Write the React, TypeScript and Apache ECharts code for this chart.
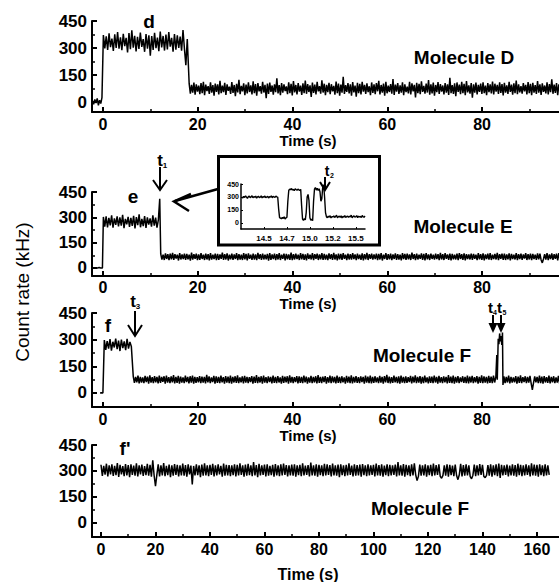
import React, { useEffect, useRef } from 'react';
import * as echarts from 'echarts';

const FONT = "'Liberation Sans', Arial, Helvetica, sans-serif";

// ---------- tick values / labels ----------
const mainXTicks = [0, 20, 40, 60, 80];
const mainXMajorTicks = [0, 20, 40, 60, 80, 100];
const mainXMinorTicks = [10, 30, 50, 70, 90];
const fpXTicks = [0, 20, 40, 60, 80, 100, 120, 140, 160];
const fpXMinorTicks = [10, 30, 50, 70, 90, 110, 130, 150, 170];
const yTicks = [0, 150, 300, 450];
const yMinorTicks = [75, 225, 375];
const insetXTickValues = [14.5, 14.75, 15.0, 15.25, 15.5];
const insetXTickLabels = ['14.5', '14.7', '15.0', '15.2', '15.5'];

// ---------- panel d (Molecule D) ----------
const dPreStart = -2.2, dPreStep = 0.25;
const dPre = [8, -12, 15, -5, 20, -18, 10, -8, 25];
const dHighStart = 0.1, dHighStep = 0.3;
const dHigh = [
  372, 298, 365, 290, 381, 305, 352, 284, 376, 300, 388, 296, 360, 288, 379, 311, 357, 275, 383, 293,
  398, 302, 368, 281, 362, 295, 386, 306, 349, 279, 377, 297, 370, 258, 366, 289, 384, 299, 358, 283,
  392, 304, 367, 286, 375, 292, 389, 308, 356, 280, 378, 291, 371, 300, 363, 285, 400, 296, 205, 350,
];
const dLowStart = 18.2, dLowStep = 0.25;
const dLow = [
  102, 47, 96, 53, 108, 41, 99, 58, 91, 44, 105, 50, 113, 39, 97, 61, 88, 46, 110, 52,
  94, 36, 103, 57, 99, 43, 118, 49, 92, 55, 107, 40, 98, 62, 86, 45, 111, 51, 95, 33,
  101, 54, 124, 44, 90, 59, 104, 38, 97, 48, 109, 56, 93, 42, 115, 50, 100, 35, 106, 60,
  89, 47, 112, 53, 96, 22, 103, 45, 108, 57, 92, 41, 99, 55, 132, 48, 94, 39, 105, 52,
  98, 61, 87, 44, 110, 50, 101, 37, 117, 54, 95, 43, 106, 58, 91, 40, 104, 49, 119, 46,
  100, 56, 93, 28, 108, 51, 97, 42, 113, 59, 89, 47, 121, 53, 102, 38, 96, 55, 107, 44,
  99, 60, 90, 41, 114, 50, 103, 36, 97, 52, 140, 45, 94, 57, 105, 48, 99, 35, 111, 54,
  92, 30, 107, 50, 101, 43, 113, 58, 96, 46, 104, 55, 88, 39, 109, 51, 98, 44, 106, 60,
  118, 42, 95, 53, 103, 36, 112, 49, 91, 56, 100, 47, 128, 40, 97, 58, 105, 45, 93, 52,
  110, 38, 99, 55, 86, 48, 112, 42, 104, 59, 96, 26, 107, 50, 101, 44, 115, 57, 90, 47,
  103, 53, 122, 41, 98, 48, 108, 36, 95, 55, 111, 45, 100, 58, 92, 43, 106, 52, 99, 40,
  135, 50, 94, 46, 104, 33, 109, 56, 97, 44, 112, 49, 101, 38, 117, 54, 93, 47, 105, 24,
  98, 52, 108, 42, 96, 57, 103, 45, 110, 50, 91, 39, 106, 55, 99, 48, 114, 43, 102, 58,
  95, 46, 109, 51, 100, 37, 107, 53, 93, 45, 113, 56, 97, 41, 104, 49, 120, 44, 99, 54,
  88, 47, 105, 60, 96, 42, 111, 50, 101, 38, 107, 53, 94, 45, 116, 52, 98, 40, 104, 57,
  92, 48, 110, 43, 100, 55, 127, 46, 97, 51, 106, 39, 99, 58, 91, 47, 108, 44, 103, 53,
  96, 42, 112, 50, 98, 56, 105, 45, 100, 49,
];

// ---------- panel e (Molecule E) ----------
const ePreStart = -2.2, ePreStep = 0.35;
const ePre = [0, 1, -1, 0, 2, -1, 0];
const eHighStart = 0.1, eHighStep = 0.29;
const eHigh = [
  302, 245, 306, 240, 296, 252, 312, 238, 293, 255, 305, 246, 299, 250, 315, 236, 291, 258, 303, 243,
  297, 249, 309, 234, 301, 254, 318, 241, 290, 248, 307, 237, 300, 257, 294, 244, 311, 251, 298, 239,
  285, 410,
];
const eLowStart = 12.2, eLowStep = 0.25;
const eLow = [
  83, 50, 79, 47, 86, 53, 81, 46, 84, 51, 89, 48, 82, 55, 78, 44, 87, 50, 80, 52,
  85, 47, 83, 51, 79, 43, 90, 49, 81, 54, 84, 46, 80, 48, 87, 53, 78, 47, 85, 50,
  82, 45, 88, 49, 79, 53, 84, 46, 83, 48, 80, 54, 91, 47, 82, 50, 86, 44, 79, 51,
  84, 48, 80, 53, 87, 46, 82, 50, 78, 47, 88, 51, 83, 45, 86, 54, 79, 48, 84, 49,
  80, 46, 89, 53, 82, 47, 85, 50, 79, 51, 83, 43, 87, 48, 80, 53, 84, 46, 82, 50,
  88, 47, 79, 54, 85, 45, 83, 51, 80, 48, 91, 46, 82, 50, 84, 53, 78, 47, 87, 51,
  83, 48, 80, 45, 86, 53, 79, 50, 88, 46, 82, 54, 84, 47, 80, 51, 87, 48, 83, 50,
  79, 46, 86, 53, 82, 47, 89, 50, 80, 45, 84, 51, 83, 48, 87, 54, 78, 46, 85, 50,
  81, 49, 88, 52, 80, 46, 84, 53, 79, 48, 86, 45, 82, 51, 89, 47, 81, 54, 84, 49,
  80, 52, 85, 46, 83, 50, 87, 44, 79, 53, 88, 48, 81, 51, 84, 46, 80, 53, 86, 47,
  82, 50, 79, 45, 87, 52, 83, 48, 85, 51, 80, 47, 90, 53, 81, 46, 84, 50, 78, 54,
  86, 48, 83, 45, 88, 51, 80, 47, 85, 53, 79, 49, 84, 52, 82, 46, 89, 50, 81, 47,
  87, 54, 80, 48, 85, 45, 83, 51, 79, 50, 84, 46, 88, 53, 81, 48, 86, 44, 82, 52,
  80, 50, 85, 47, 83, 54, 79, 46, 88, 51, 82, 48, 86, 45, 80, 53, 84, 49, 87, 47,
  79, 52, 83, 50, 89, 46, 81, 54, 84, 48, 85, 47, 80, 51, 86, 45, 83, 53, 79, 50,
  88, 46, 82, 52, 84, 48, 80, 55, 87, 47, 81, 50, 85, 46, 83, 53, 79, 48, 86, 51,
  84, 47, 30, 53, 82, 49, 87, 46, 80, 52, 86, 48, 81, 54, 84, 45, 88, 50, 79, 47,
  83, 51, 86, 46, 80, 53, 85, 48, 82, 50, 87, 45, 79, 52, 84, 47, 81, 53, 85, 49,
];

// ---------- panel f (Molecule F, 100 s) ----------
const fPreStart = -0.6, fPreStep = 0.3;
const fPre = [0, 1, 0];
const fHighStart = 0.3, fHighStep = 0.3;
const fHigh = [298, 243, 292, 250, 303, 238, 288, 256, 306, 246, 295, 236, 300, 253, 290, 241, 305, 249, 287, 262];
const fLowStart = 6.4, fLowStep = 0.25;
const fLow = [
  94, 57, 90, 60, 97, 54, 91, 59, 88, 56, 96, 61, 92, 53, 99, 58, 89, 55, 95, 60,
  91, 54, 98, 57, 90, 62, 94, 52, 97, 58, 89, 56, 93, 60, 100, 54, 91, 57, 96, 53,
  92, 59, 88, 55, 97, 61, 90, 54, 94, 58, 98, 52, 91, 57, 89, 60, 95, 55, 92, 58,
  90, 54, 102, 59, 93, 56, 88, 61, 96, 53, 94, 57, 91, 55, 98, 60, 89, 53, 95, 58,
  92, 56, 97, 52, 90, 59, 94, 57, 99, 55, 88, 60, 93, 54, 96, 58, 91, 56, 89, 61,
  95, 53, 92, 57, 100, 55, 90, 59, 94, 52, 97, 58, 89, 56, 93, 61, 91, 54, 98, 57,
  90, 55, 95, 59, 88, 53, 96, 57, 92, 60, 94, 52, 99, 58, 91, 56, 89, 61, 95, 54,
  93, 57, 90, 55, 97, 60, 92, 53, 88, 58, 96, 56, 91, 59, 94, 54, 101, 57, 90, 55,
  92, 61, 95, 53, 89, 58, 97, 56, 93, 59, 90, 54, 98, 57, 91, 55, 94, 60, 88, 52,
  96, 58, 92, 56, 99, 54, 90, 59, 95, 57, 89, 55, 93, 61, 91, 53, 97, 58, 92, 56,
  98, 54, 90, 57, 94, 60, 88, 55, 96, 58, 91, 53, 95, 59, 102, 56, 92, 54, 89, 57,
  97, 60, 90, 55, 94, 52, 98, 58, 91, 56, 93, 57, 89, 61, 96, 54, 92, 59, 99, 55,
  90, 58, 95, 53, 91, 56, 97, 60, 88, 54, 94, 57, 92, 55, 98, 59, 90, 52, 96, 58,
  89, 56, 93, 60, 91, 54, 100, 57, 92, 55, 97, 53, 90, 58, 95, 56, 88, 61, 94, 57,
  91, 55, 98, 54, 92, 59, 96, 56, 89, 60, 95, 52, 91, 57, 99, 55, 93, 58, 90, 54,
  96, 57, 92, 55, 98, 59, 91,
];
const fSpikeTimes = [83.1, 83.2, 83.4, 83.55, 83.7, 83.85, 84.0, 84.15, 84.3, 84.4];
const fSpikeValues = [213, 75, 305, 275, 335, 290, 320, 270, 340, 45];
const fTailStart = 84.6, fTailStep = 0.25;
const fTail = [
  93, 56, 90, 59, 97, 54, 91, 58, 88, 60, 95, 53, 92, 57, 99, 55, 89, 61, 94, 56,
  91, 58, 96, 54, 17, 57, 93, 60, 90, 55, 98, 56, 92, 53, 95, 59, 89, 57, 97, 54,
  91, 60, 94, 55, 88, 58, 96, 53, 92, 57, 99, 56, 90, 59, 93, 54, 95, 58, 91, 55,
  97, 57,
];

// ---------- panel f' (Molecule F, 165 s) ----------
const fpStart = 0, fpStep = 0.5;
const fpVals = [
  336, 272, 330, 279, 342, 268, 333, 281, 339, 271, 329, 276, 346, 266, 335, 280, 328, 270, 340, 275,
  334, 265, 338, 277, 331, 273, 344, 269, 333, 280, 337, 271, 328, 276, 341, 273, 336, 267, 362, 274,
  212, 278, 339, 269, 332, 275, 345, 270, 329, 276, 337, 265, 333, 273, 340, 277, 336, 269, 332, 275,
  343, 273, 334, 267, 338, 280, 331, 222, 329, 274, 339, 276, 333, 265, 337, 273, 344, 275, 332, 270,
  336, 278, 341, 269, 333, 274, 338, 280, 329, 267, 343, 273, 335, 275, 334, 270, 332, 276, 339, 269,
  336, 274, 344, 278, 333, 267, 337, 273, 341, 276, 332, 270, 352, 275, 334, 265, 342, 274, 333, 278,
  337, 269, 339, 273, 329, 276, 336, 267, 340, 275, 332, 270, 338, 274, 343, 278, 334, 269, 333, 275,
  337, 273, 339, 267, 332, 276, 336, 270, 344, 274, 331, 278, 334, 269, 348, 275, 333, 273, 339, 267,
  336, 276, 332, 270, 341, 274, 338, 278, 334, 269, 343, 275, 333, 273, 337, 265, 339, 276, 332, 270,
  336, 274, 344, 278, 331, 269, 338, 273, 334, 275, 337, 267, 340, 276, 333, 270, 339, 274, 332, 278,
  336, 269, 343, 275, 334, 273, 338, 267, 331, 276, 339, 270, 335, 274, 332, 278, 337, 269, 352, 275,
  333, 273, 340, 267, 336, 276, 332, 270, 338, 274, 344, 278, 245, 269, 337, 273, 333, 275, 339, 267,
  332, 276, 336, 270, 343, 274, 334, 278, 338, 269, 258, 275, 333, 273, 339, 267, 336, 276, 331, 270,
  337, 274, 250, 278, 341, 269, 334, 273, 338, 275, 332, 267, 255, 276, 337, 270, 333, 274, 340, 278,
  336, 269, 262, 275, 334, 273, 339, 267, 332, 276, 338, 270, 343, 260, 336, 274, 333, 278, 337, 269,
  331, 275, 339, 273, 334, 267, 342, 276, 336, 270, 333, 274, 338, 278, 332, 269, 344, 275, 337, 273,
  335, 267, 339, 276, 332, 270, 338, 274, 333, 278,
];

// ---------- inset (zoom of panel e near t1) ----------
const insetStart = 14.26, insetStep = 0.01;
const insetVals = [
  300, 288, 306, 295, 312, 298, 285, 303, 309, 292, 301, 315, 290, 304, 297, 310, 286, 302, 308, 294,
  299, 313, 289, 305, 296, 311, 293, 300, 307, 288, 303, 298, 314, 291, 306, 301, 295, 309, 302, 297,
  160, 62,
  55, 48, 64, 52, 70, 45, 58, 66,
  250,
  375, 392, 384, 398, 380, 389, 372, 395, 386, 378, 391, 383, 376, 388,
  200,
  45, 30, 50, 35, 120,
  300, 330, 260,
  60, 30, 45, 25,
  250,
  390, 410, 380, 400, 375, 395, 360,
  250, 280,
  420, 440,
  300, 120,
  72, 60, 78, 66, 84, 58, 74, 69, 81, 63, 76, 88, 61, 71, 79, 65, 83, 57, 75, 68,
  86, 62, 73, 80, 64, 77, 70, 90, 59, 74, 82, 67, 72, 85, 60, 78, 69, 76, 63, 87,
  71, 66, 80,
];

function seg(start: number, step: number, vals: number[]) {
  return vals.map((v, i) => [Math.round((start + i * step) * 1000) / 1000, v]);
}
function pairs(ts: number[], vs: number[]) {
  return ts.map((t, i) => [t, vs[i]]);
}

const dData = [...seg(dPreStart, dPreStep, dPre), ...seg(dHighStart, dHighStep, dHigh), ...seg(dLowStart, dLowStep, dLow)];
const eData = [...seg(ePreStart, ePreStep, ePre), ...seg(eHighStart, eHighStep, eHigh), ...seg(eLowStart, eLowStep, eLow)];
const fData = [
  ...seg(fPreStart, fPreStep, fPre), ...seg(fHighStart, fHighStep, fHigh), ...seg(fLowStart, fLowStep, fLow),
  ...pairs(fSpikeTimes, fSpikeValues), ...seg(fTailStart, fTailStep, fTail),
];
const fpData = seg(fpStart, fpStep, fpVals);
const insetData = seg(insetStart, insetStep, insetVals);

function buildOption() {
  const panels = [
    { top: 21, height: 91, ymin: -55, xmin: -2.3, xmax: 100, width: 484.9, xl: mainXTicks, xt: mainXMajorTicks, xm: mainXMinorTicks, data: dData },
    { top: 192, height: 84, ymin: -48, xmin: -2.3, xmax: 100, width: 484.9, xl: mainXTicks, xt: mainXMajorTicks, xm: mainXMinorTicks, data: eData },
    { top: 313, height: 94, ymin: -79, xmin: -2.3, xmax: 100, width: 484.9, xl: mainXTicks, xt: mainXMajorTicks, xm: mainXMinorTicks, data: fData },
    { top: 445, height: 92, ymin: -81, xmin: -3.3, xmax: 170, width: 472.2, xl: fpXTicks, xt: fpXTicks, xm: fpXMinorTicks, data: fpData },
  ];
  const grid: any[] = panels.map((p) => ({ left: 92, top: p.top, width: p.width, height: p.height }));
  grid.push({ left: 241, top: 184, width: 124, height: 45 });

  const xAxis: any[] = [];
  const yAxis: any[] = [];
  const series: any[] = [];
  const black = '#000';
  const lab = (size: number, margin: number) => ({
    show: true, margin, color: black, fontSize: size, fontWeight: 'bold', fontFamily: FONT,
  });
  panels.forEach((p, i) => {
    xAxis.push({
      type: 'value', gridIndex: i, min: p.xmin, max: p.xmax, position: 'bottom',
      axisLine: { show: true, onZero: false, lineStyle: { color: black, width: 2 } },
      axisTick: { show: true, inside: true, length: 5, customValues: p.xt, lineStyle: { color: black, width: 2 } },
      axisLabel: { ...lab(16, i === 1 ? 3 : 4), customValues: p.xl },
      splitLine: { show: false },
    });
    xAxis.push({
      type: 'value', gridIndex: i, min: p.xmin, max: p.xmax, position: 'bottom',
      axisLine: { show: false, onZero: false },
      axisTick: { show: true, inside: true, length: 3, customValues: p.xm, lineStyle: { color: black, width: 1.5 } },
      axisLabel: { show: false },
      splitLine: { show: false },
    });
    yAxis.push({
      type: 'value', gridIndex: i, min: p.ymin, max: 450, position: 'left',
      axisLine: { show: true, onZero: false, lineStyle: { color: black, width: 2 } },
      axisTick: { show: true, inside: true, length: 5, customValues: yTicks, lineStyle: { color: black, width: 2 } },
      axisLabel: { ...lab(17, 5), customValues: yTicks },
      splitLine: { show: false },
    });
    yAxis.push({
      type: 'value', gridIndex: i, min: p.ymin, max: 450, position: 'left',
      axisLine: { show: false, onZero: false },
      axisTick: { show: true, inside: true, length: 3, customValues: yMinorTicks, lineStyle: { color: black, width: 1.5 } },
      axisLabel: { show: false },
      splitLine: { show: false },
    });
    series.push({
      type: 'line', xAxisIndex: 2 * i, yAxisIndex: 2 * i, data: p.data, showSymbol: false, symbol: 'none',
      lineStyle: { color: black, width: 1.5 }, silent: true, clip: true, z: 3,
    });
  });
  // inset axes
  xAxis.push({
    type: 'value', gridIndex: 4, min: 14.25, max: 15.6, position: 'bottom',
    axisLine: { show: true, onZero: false, lineStyle: { color: black, width: 1.5 } },
    axisTick: { show: true, inside: true, length: 2, customValues: insetXTickValues, lineStyle: { color: black, width: 1 } },
    axisLabel: {
      ...lab(8, 5), customValues: insetXTickValues,
      formatter: (v: number) => {
        const k = insetXTickValues.findIndex((t) => Math.abs(t - v) < 1e-6);
        return k >= 0 ? insetXTickLabels[k] : '';
      },
    },
    splitLine: { show: false },
  });
  yAxis.push({
    type: 'value', gridIndex: 4, min: -70, max: 450, position: 'left',
    axisLine: { show: true, onZero: false, lineStyle: { color: black, width: 1.5 } },
    axisTick: { show: true, inside: true, length: 2, customValues: yTicks, lineStyle: { color: black, width: 1 } },
    axisLabel: { ...lab(7, 2), customValues: yTicks },
    splitLine: { show: false },
  });
  series.push({
    type: 'line', xAxisIndex: 8, yAxisIndex: 8, data: insetData, showSymbol: false, symbol: 'none',
    lineStyle: { color: black, width: 1.4 }, silent: true, clip: true, z: 3,
  });

  const txt = (text: string, x: number, y: number, size: number, bold = true, extra: any = {}) => ({
    type: 'text', x, y, ...extra,
    style: {
      text, fill: black, font: `${bold ? 'bold ' : ''}${size}px ${FONT}`,
      textAlign: 'center', textVerticalAlign: 'middle',
    },
  });
  const ln = (x1: number, y1: number, x2: number, y2: number, w = 2) => ({
    type: 'line', shape: { x1, y1, x2, y2 }, style: { stroke: black, lineWidth: w },
  });
  const pl = (points: number[][], w = 2) => ({
    type: 'polyline', shape: { points }, style: { stroke: black, fill: 'none', lineWidth: w },
  });
  const pg = (points: number[][]) => ({
    type: 'polygon', shape: { points }, style: { fill: black },
  });

  const graphic: any[] = [
    txt('Count rate (kHz)', 22, 292, 19, false, { rotation: Math.PI / 2 }),
    txt('d', 149, 21, 19),
    txt('Molecule D', 464, 57, 19),
    txt('e', 133, 196, 19),
    txt('Molecule E', 463, 226, 19),
    txt('f', 108, 325, 19),
    txt('Molecule F', 422, 355, 19),
    txt("f'", 125, 448, 19),
    txt('Molecule F', 420, 508, 19),
    txt('Time (s)', 308, 140, 15),
    txt('Time (s)', 308, 303, 15),
    txt('Time (s)', 308, 435, 15),
    txt('Time (s)', 308, 574, 16),
    // inset frame
    { type: 'rect', shape: { x: 218.5, y: 156.5, width: 161, height: 88.5 }, style: { stroke: black, fill: 'none', lineWidth: 3 } },
    // arrow from inset to spike
    ln(218, 189, 175, 201, 2.5),
    pl([[191, 194], [174, 201.5], [189, 211]], 2.5),
    // t1
    txt('t', 160, 160, 17), txt('1', 165, 165, 8),
    ln(160, 167, 160, 190, 2), pl([[153, 180], [160, 190], [167, 180]], 2),
    // t2
    txt('t', 327, 171, 14), txt('2', 332, 175, 7),
    ln(325, 177, 325, 190, 2), pl([[320, 182], [325, 190], [330, 182]], 2),
    // t3
    txt('t', 133, 301, 17), txt('3', 138, 306, 8),
    ln(135, 311, 135, 336, 2), pl([[128, 325], [135, 336], [142, 325]], 2),
    // t4, t5
    txt('t', 490.5, 307, 15), txt('4', 495, 312, 7),
    txt('t', 499.5, 307, 15), txt('5', 504.5, 312, 7),
    ln(493, 315, 493, 328, 2), pg([[488.5, 323], [493, 333], [497.5, 323]]),
    ln(501, 315, 501, 328, 2), pg([[496.5, 323], [501, 333], [505.5, 323]]),
  ];

  return { animation: false, backgroundColor: '#fff', grid, xAxis, yAxis, series, graphic };
}

export default function App() {
  const ref = useRef<HTMLDivElement>(null);
  useEffect(() => {
    document.body.style.margin = '0';
    document.body.style.overflow = 'hidden';
    document.documentElement.style.overflow = 'hidden';
    if (!ref.current) return;
    const chart = echarts.init(ref.current, undefined, { renderer: 'svg', width: 600, height: 582 });
    chart.setOption(buildOption() as any);
    return () => chart.dispose();
  }, []);
  return <div ref={ref} style={{ position: 'fixed', left: 0, top: 0, width: 600, height: 582, background: '#fff' }} />;
}
